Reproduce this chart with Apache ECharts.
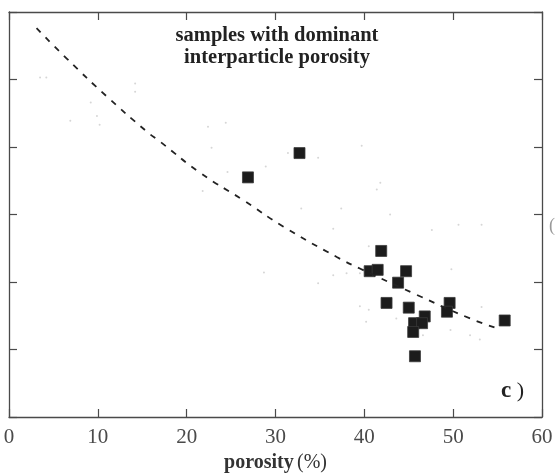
<!DOCTYPE html>
<html>
<head>
<meta charset="utf-8">
<script src="https://cdn.jsdelivr.net/npm/echarts@6/dist/echarts.min.js"></script>
<style>
  html, body { margin: 0; padding: 0; background: #fff; }
  #chart { width: 559px; height: 474px; }
</style>
</head>
<body>
<div id="chart"></div>
<script>
// Samples with dominant interparticle porosity: porosity (%) vs. property value
const samplePorosity = [26.9, 32.7, 41.9, 40.6, 41.5, 44.7, 43.8, 42.5, 45.0, 49.6, 49.3, 46.8, 45.6, 46.5, 45.5, 55.8, 45.7];
const sampleValue    = [3.55, 3.91, 2.46, 2.16, 2.18, 2.16, 1.99, 1.69, 1.62, 1.69, 1.56, 1.49, 1.39, 1.39, 1.26, 1.43, 0.90];

// Trend curve read along its length
const trendPorosity = [3.1, 6.5, 11.0, 15.5, 17.0, 21.5, 26.4, 30.9, 36.9, 39.5, 45.9, 51.9, 55.3];
const trendValue    = [5.76, 5.31, 4.75, 4.23, 4.08, 3.62, 3.21, 2.82, 2.37, 2.20, 1.81, 1.46, 1.30];

// Faint background specks (other samples, printed very light)
const faintPorosity = [3.5, 4.2, 14.2, 14.2, 9.2, 6.9, 9.9, 10.2, 22.4, 24.4, 22.8, 24.6, 21.8, 28.9, 31.4, 34.8, 39.7, 41.8, 41.4, 32.9, 37.4, 42.9, 36.5, 47.6, 50.6, 53.2, 40.5, 39.5, 38.0, 36.5, 34.8, 49.8, 39.5, 40.5, 40.2, 43.6, 46.6, 49.7, 51.9, 53.0, 53.2, 28.7];
const faintValue    = [5.03, 5.03, 4.94, 4.82, 4.66, 4.39, 4.46, 4.33, 4.30, 4.36, 3.99, 3.63, 3.35, 3.71, 3.91, 3.84, 4.02, 3.47, 3.37, 3.09, 3.09, 3.00, 2.79, 2.77, 2.85, 2.85, 2.53, 2.13, 2.13, 2.10, 1.98, 2.19, 1.64, 1.59, 1.41, 1.46, 1.21, 1.29, 1.21, 1.15, 1.63, 2.14];

const xTicks = { min: 0, max: 60, interval: 10 };
const yTicks = { min: 0, max: 6, interval: 1 };

const serif = '"Liberation Serif", "DejaVu Serif", serif';
const zip = (a, b) => a.map((v, i) => [v, b[i]]);

const chart = echarts.init(document.getElementById('chart'));

const frameLine = { show: true, onZero: false, lineStyle: { color: '#4a4a4a', width: 1.3 } };
const innerTicks = { show: true, inside: true, length: 8, lineStyle: { color: '#4a4a4a', width: 1.2 } };

chart.setOption({
  animation: false,
  backgroundColor: '#ffffff',
  grid: { left: 9, right: 17, top: 12, bottom: 57, containLabel: false, outerBoundsMode: 'none' },
  xAxis: [
    {
      type: 'value', position: 'bottom',
      min: xTicks.min, max: xTicks.max, interval: xTicks.interval,
      axisLine: frameLine, axisTick: innerTicks, splitLine: { show: false },
      axisLabel: { fontFamily: serif, fontSize: 21, color: '#4a4a4a', margin: 10 },
      name: '{b|porosity} {r|(%)}',
      nameLocation: 'middle', nameGap: 35,
      nameTextStyle: {
        rich: {
          b: { fontFamily: serif, fontSize: 20, fontWeight: 'bold', color: '#333' },
          r: { fontFamily: serif, fontSize: 20, color: '#333' }
        }
      }
    },
    {
      type: 'value', position: 'top',
      min: xTicks.min, max: xTicks.max, interval: xTicks.interval,
      axisLine: frameLine, axisTick: innerTicks, axisLabel: { show: false }, splitLine: { show: false }
    }
  ],
  yAxis: [
    {
      type: 'value', position: 'left',
      min: yTicks.min, max: yTicks.max, interval: yTicks.interval,
      axisLine: frameLine, axisTick: innerTicks, axisLabel: { show: false }, splitLine: { show: false }
    },
    {
      type: 'value', position: 'right',
      min: yTicks.min, max: yTicks.max, interval: yTicks.interval,
      axisLine: frameLine, axisTick: innerTicks, axisLabel: { show: false }, splitLine: { show: false }
    }
  ],
  series: [
    {
      name: 'faint', type: 'scatter', symbol: 'circle', symbolSize: 2,
      itemStyle: { color: '#d6d6d6', opacity: 1 }, silent: true,
      data: zip(faintPorosity, faintValue)
    },
    {
      name: 'trend', type: 'line', smooth: true, showSymbol: false, symbol: 'none',
      lineStyle: { color: '#222', width: 1.8, type: [6, 7] },
      data: zip(trendPorosity, trendValue)
    },
    {
      name: 'samples', type: 'scatter', symbol: 'rect', symbolSize: 11,
      itemStyle: { color: '#1c1c1c', borderColor: '#3a3a3a', borderWidth: 0.8, opacity: 1 },
      data: zip(samplePorosity, sampleValue)
    }
  ],
  graphic: [
    {
      type: 'text', x: 277, y: 25, z: 10,
      style: {
        text: 'samples with dominant\ninterparticle porosity',
        align: 'center', verticalAlign: 'top',
        font: 'bold 20.5px ' + serif, fill: '#222', lineHeight: 22
      }
    },
    {
      type: 'text', x: 501, y: 380, z: 10,
      style: {
        text: '{c|c}{p| )}',
        rich: {
          c: { font: 'bold 23px ' + serif, fill: '#222' },
          p: { font: '22px ' + serif, fill: '#222' }
        }
      }
    },
    {
      type: 'text', x: 549, y: 217, z: 10,
      style: { text: '(', font: '18px ' + serif, fill: '#999' }
    }
  ]
});
</script>
</body>
</html>
